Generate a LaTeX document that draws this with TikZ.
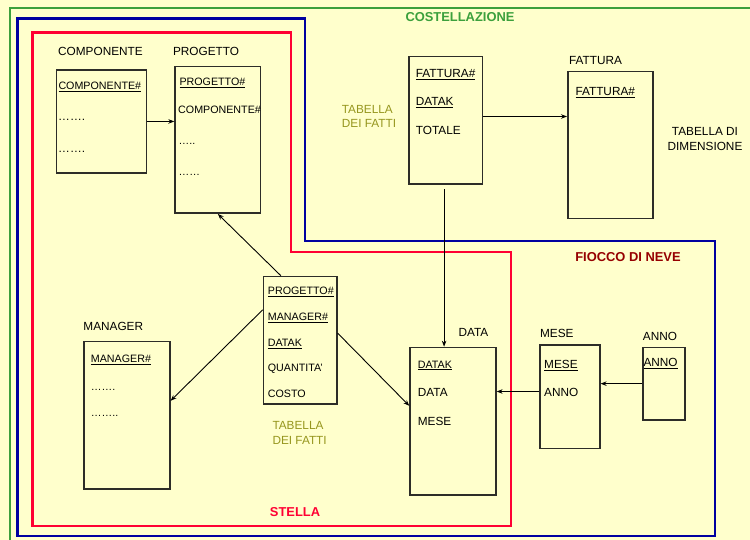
\documentclass[tikz,border=0pt]{standalone}
\usepackage{fontspec}
\setmainfont{Liberation Sans}
\usetikzlibrary{arrows.meta}
\definecolor{paper}{RGB}{255,255,204}
\definecolor{cgreen}{RGB}{60,160,60}
\definecolor{cblue}{RGB}{0,0,160}
\definecolor{cred}{RGB}{255,0,51}
\definecolor{cdarkred}{RGB}{150,0,0}
\definecolor{colive}{RGB}{150,150,30}
\definecolor{cbox}{RGB}{45,45,40}
\begin{document}
\begin{tikzpicture}[x=1pt,y=-1pt,
  tbl/.style={draw=cbox, line width=1.6pt, fill=paper, inner sep=0pt, anchor=north west},
  fld/.style={inner sep=0pt, anchor=west, text height=8.5pt, text depth=0pt, font=\fontsize{11.8}{14}\selectfont},
  sfld/.style={fld, font=\fontsize{10.7}{13}\selectfont},
  ttl/.style={inner sep=0pt, text height=8.5pt, text depth=0pt, font=\fontsize{11.8}{14}\selectfont},
  area/.style={inner sep=0pt, text height=9.3pt, text depth=0pt, font=\bfseries\fontsize{12.9}{15}\selectfont},
  note/.style={inner sep=0pt, font=\fontsize{11.8}{14.5}\selectfont},
  link/.style={line width=0.9pt, -{Stealth[length=6pt,width=4.5pt]}},
  frame/.style={line width=2.8pt}]
\useasboundingbox (0,0) rectangle (750,540);
\fill[paper] (0,0) rectangle (750,540);

% schema frames
\draw[frame, cgreen] (752,8) -- (10,8) -- (10,542);
\draw[frame, cblue] (17.5,18.5) -- (305,18.5) -- (305,241) -- (715,241) -- (715,536) -- (17.5,536) -- cycle;
\draw[frame, cred] (32.5,32.5) -- (291,32.5) -- (291,252) -- (511,252) -- (511,526) -- (32.5,526) -- cycle;

\node[area, text=cgreen] (tcost) at (460,16.5) {COSTELLAZIONE};
\node[area, text=cdarkred] (tfiocco) at (628,257) {FIOCCO DI NEVE};
\node[area, text=cred] (tstella) at (295,512) {STELLA};

% COMPONENTE
\node[ttl] (lcomp) at (100.5,51.7) {COMPONENTE};
\node[tbl, minimum width=90pt, minimum height=103.3pt] (comp) at (55.7,69) {};
\node[sfld] (comp1) at (58.3,85) {\underline{COMPONENTE\#}};
\node[fld] (comp2) at (58,116.7) {…….};
\node[fld] (comp3) at (58,148) {…….};

% PROGETTO
\node[ttl] (lprog) at (206,51.7) {PROGETTO};
\node[tbl, minimum width=85.4pt, minimum height=146.6pt] (prog) at (174.3,65.7) {};
\node[sfld] (prog1) at (179.3,81.7) {\underline{PROGETTO\#}};
\node[sfld] (prog2) at (178,109) {COMPONENTE\#};
\node[sfld] (prog3) at (178.5,140) {…..};
\node[sfld] (prog4) at (178.5,171.7) {……};

% MANAGER
\node[ttl] (lmgr) at (113.3,326.7) {MANAGER};
\node[tbl, minimum width=85.7pt, minimum height=147.6pt] (mgr) at (83.3,340.7) {};
\node[sfld] (mgr1) at (90.7,358.3) {\underline{MANAGER\#}};
\node[sfld] (mgr2) at (90.7,386.7) {…….};
\node[sfld] (mgr3) at (90.7,412.7) {……..};

% central fact table
\node[tbl, minimum width=73.3pt, minimum height=127.6pt] (fc) at (262.7,275.7) {};
\node[sfld] (fc1) at (267.7,290.7) {\underline{PROGETTO\#}};
\node[sfld] (fc2) at (267.7,316) {\underline{MANAGER\#}};
\node[sfld] (fc3) at (267.7,342.3) {\underline{DATAK}};
\node[sfld] (fc4) at (267.7,367.3) {QUANTITA'};
\node[sfld] (fc5) at (267.7,393.3) {COSTO};
\node[note, text=colive, align=left, anchor=north west] (fcnote) at (272.3,421.5) {TABELLA\\DEI FATTI};

% DATA
\node[ttl] (ldata) at (473.5,332.7) {DATA};
\node[tbl, minimum width=85.7pt, minimum height=147.3pt] (data) at (409.3,346.7) {};
\node[sfld] (data1) at (417.7,364) {\underline{DATAK}};
\node[fld] (data2) at (417.7,392.7) {DATA};
\node[fld] (data3) at (417.7,421.7) {MESE};

% MESE
\node[ttl] (lmese) at (556.8,333.7) {MESE};
\node[tbl, minimum width=59.7pt, minimum height=103.4pt] (mese) at (539.3,344.3) {};
\node[fld] (mese1) at (544,364.7) {\underline{MESE}};
\node[fld] (mese2) at (544,392.7) {ANNO};

% ANNO
\node[ttl] (lanno) at (660,336.7) {ANNO};
\node[tbl, minimum width=41.7pt, minimum height=72.3pt] (anno) at (642.3,346.7) {};
\node[fld] (anno1) at (643.3,362.7) {\underline{ANNO}};

% FATTURA fact table
\node[tbl, minimum width=73.4pt, minimum height=127.6pt] (ff) at (408.3,55.7) {};
\node[fld] (ff1) at (415.7,73.3) {\underline{FATTURA\#}};
\node[fld] (ff2) at (415.7,101.7) {\underline{DATAK}};
\node[fld] (ff3) at (415.7,130.7) {TOTALE};
\node[note, text=colive, align=left, anchor=north west] (ffnote) at (341.7,104.8) {TABELLA\\DEI FATTI};

% FATTURA dimension
\node[ttl] (lfd) at (595.5,60) {FATTURA};
\node[tbl, minimum width=85.3pt, minimum height=147pt] (fd) at (567,70.7) {};
\node[fld] (fd1) at (575.3,91.7) {\underline{FATTURA\#}};
\node[note, align=center, anchor=north] (fdnote) at (705,127.5) {TABELLA DI\\DIMENSIONE};

% references
\draw[link] (comp.east) -- (prog.west |- comp.east);
\draw[link] ([yshift=3.8pt]ff.east) -- ([yshift=3.8pt]ff.east -| fd.west);
\draw[link, shorten <=4.5pt] ([xshift=-1.7pt]ff.south) -- ([xshift=-1.7pt]ff.south |- data.north);
\draw[link] ([xshift=-19.3pt]fc.north) -- (prog.south);
\draw[link] ([yshift=30.5pt]fc.west) -- ([yshift=14.5pt]mgr.east);
\draw[link] ([yshift=7.2pt]fc.east) -- ([yshift=15.3pt]data.west);
\draw[link] ([yshift=5.3pt]mese.west) -- ([yshift=5.3pt]mese.west -| data.east);
\draw[link] (anno.west) -- (anno.west -| mese.east);
\end{tikzpicture}
\end{document}
